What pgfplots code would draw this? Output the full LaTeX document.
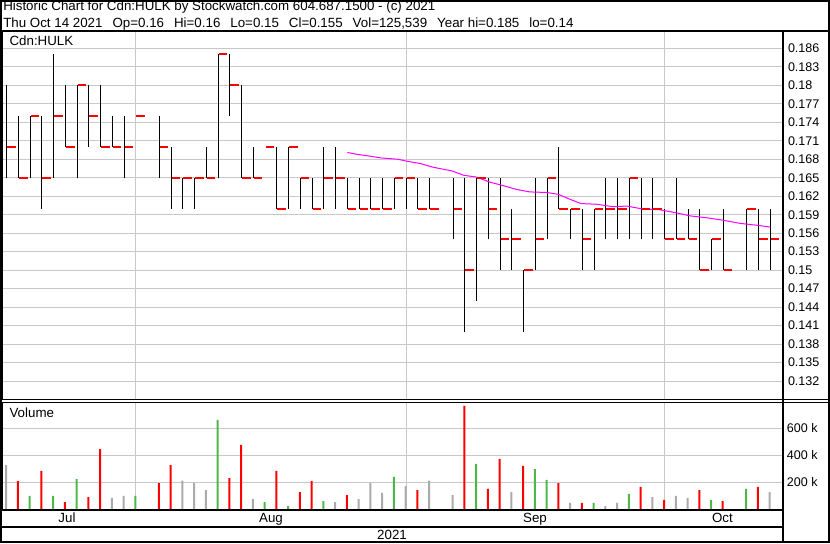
\documentclass[border=0pt]{standalone}
\usepackage{fontspec}
\setmainfont{Liberation Sans}
\usepackage{pgfplots}
\pgfplotsset{compat=1.18}
\usepackage{pgfplotstable}

\definecolor{gridgray}{HTML}{C8C8C8}
\definecolor{volred}{HTML}{FF0000}
\definecolor{volgreen}{HTML}{4DB848}
\definecolor{volgray}{HTML}{AAAAAA}
\definecolor{mapink}{HTML}{FF00FF}

\newcommand{\chartfont}{\fontsize{10}{12}\selectfont}
\newcommand{\tickfont}{\fontsize{9.4}{11}\selectfont}
\newcommand{\gap}{\hspace{7.5pt}}

% red close tick, to the right of the bar
\pgfdeclareplotmark{closetick}{%
  \pgfpathmoveto{\pgfpoint{0.4pt}{0pt}}%
  \pgfpathlineto{\pgfpoint{6.8pt}{0pt}}%
  \pgfusepathqstroke}

% daily bars: index (weekday), high, low, close
\pgfplotstableread{
i  hi    lo    cl
0  0.180 0.165 0.170
1  0.175 0.165 0.165
2  0.175 0.165 0.175
3  0.175 0.160 0.165
4  0.185 0.165 0.175
5  0.180 0.170 0.170
6  0.180 0.165 0.180
7  0.180 0.170 0.175
8  0.180 0.170 0.170
9  0.175 0.170 0.170
10 0.175 0.165 0.170
11 0.175 0.175 0.175
13 0.175 0.165 0.170
14 0.170 0.160 0.165
15 0.165 0.160 0.165
16 0.165 0.160 0.165
17 0.170 0.165 0.165
18 0.185 0.165 0.185
19 0.185 0.175 0.180
20 0.180 0.165 0.165
21 0.170 0.165 0.165
22 0.170 0.170 0.170
23 0.170 0.160 0.160
24 0.170 0.160 0.170
25 0.165 0.160 0.165
26 0.165 0.160 0.160
27 0.170 0.160 0.165
28 0.170 0.160 0.165
29 0.165 0.160 0.160
30 0.165 0.160 0.160
31 0.165 0.160 0.160
32 0.165 0.160 0.160
33 0.165 0.160 0.165
34 0.165 0.160 0.165
35 0.165 0.160 0.160
36 0.165 0.160 0.160
38 0.165 0.155 0.160
39 0.165 0.140 0.150
40 0.165 0.145 0.165
41 0.165 0.155 0.160
42 0.165 0.150 0.155
43 0.160 0.150 0.155
44 0.150 0.140 0.150
45 0.165 0.150 0.155
46 0.165 0.155 0.165
47 0.170 0.160 0.160
48 0.160 0.155 0.160
49 0.160 0.150 0.155
50 0.160 0.150 0.160
51 0.165 0.155 0.160
52 0.165 0.155 0.160
53 0.165 0.155 0.165
54 0.165 0.155 0.160
55 0.165 0.155 0.160
56 0.160 0.155 0.155
57 0.165 0.155 0.155
58 0.160 0.155 0.155
59 0.160 0.150 0.150
60 0.155 0.150 0.155
61 0.160 0.150 0.150
63 0.160 0.150 0.160
64 0.160 0.150 0.155
65 0.160 0.150 0.155
}\prices

% volume, split by colour (down / up / unchanged)
\pgfplotstableread{
i vol
1 208000
3 283000
5 52000
7 89000
8 446000
13 193000
14 327000
19 230000
20 476000
23 283000
25 126000
26 208000
29 104000
35 141000
39 766000
41 149000
42 372000
44 320000
47 193000
49 45000
54 164000
56 67000
59 141000
61 59000
64 164000
}\voldown

\pgfplotstableread{
i vol
2 97000
4 97000
6 223000
11 97000
18 662000
22 52000
24 22000
27 59000
33 238000
40 335000
45 297000
46 216000
50 45000
53 112000
60 67000
63 149000
}\volup

\pgfplotstableread{
i vol
0 327000
9 82000
10 97000
15 211000
16 193000
17 141000
21 74000
28 52000
30 74000
31 193000
32 119000
34 171000
36 211000
38 104000
43 126000
48 45000
51 22000
52 45000
55 89000
57 97000
58 82000
65 126000
}\volflat

\begin{document}
\begin{tikzpicture}[x=0.75pt,y=0.75pt]
\useasboundingbox (0,0) rectangle (830,543);

% price panel
\begin{axis}[
  at={(1.5pt,108pt)}, anchor=south west, scale only axis,
  width=585pt, height=275.25pt,
  xmin=-0.4, xmax=66, ymin=0.1291, ymax=0.18864,
  xtick={11,34,56}, xticklabels={},
  ytick={0.132,0.135,0.138,0.141,0.144,0.147,0.150,0.153,0.156,0.159,0.162,0.165,0.168,0.171,0.174,0.177,0.180,0.183,0.186},
  yticklabels={0.132,0.135,0.138,0.141,0.144,0.147,0.15,0.153,0.156,0.159,0.162,0.165,0.168,0.171,0.174,0.177,0.18,0.183,0.186},
  yticklabel pos=right,
  grid=major, major grid style={gridgray, line width=0.75pt},
  major tick length=0pt,
  yticklabel style={anchor=west, inner sep=0pt, xshift=4.3pt, font=\tickfont},
  axis line style={line width=0.75pt},
]
% high-low bars
\addplot[draw=none, mark=none,
  error bars/.cd, y dir=plus, y explicit, error mark=none,
  error bar style={draw=black, line width=0.75pt, solid}]
  table[x=i, y=lo, y error plus expr=\thisrow{hi}-\thisrow{lo}] {\prices};
% close
\addplot[volred, only marks, mark=closetick, mark options={line width=1.5pt}]
  table[x=i, y=cl] {\prices};
% moving average
\addplot[mapink, line width=0.75pt] coordinates {
  (29.0,0.1691) (29.8,0.1688) (30.9,0.1685) (31.9,0.1682) (33.3,0.1680)
  (34.0,0.1677) (35.2,0.1673) (36.3,0.1667) (37.9,0.1661) (38.9,0.1654)
  (40.0,0.1651) (41.1,0.1643) (42.3,0.1637) (43.4,0.1631) (44.5,0.1627)
  (46.0,0.1626) (46.95,0.1623) (47.95,0.1615) (48.9,0.1608) (50.2,0.1607)
  (51.6,0.1603) (52.8,0.1604) (54.2,0.1599) (55.6,0.1598) (57.0,0.1593)
  (58.2,0.1588) (59.6,0.1585) (61.0,0.1581) (62.4,0.1576) (63.8,0.1573)
  (65.0,0.1570)
};
\end{axis}

% volume panel
\begin{axis}[
  at={(1.5pt,25.5pt)}, anchor=south west, scale only axis,
  width=585pt, height=80.25pt,
  xmin=-0.4, xmax=66, ymin=0, ymax=795500,
  xtick={5.13,22.5,44.97,60.93}, xticklabels={Jul,Aug,Sep,Oct},
  minor xtick={11,34,56}, xminorgrids,
  minor grid style={gridgray, line width=0.75pt},
  ytick={200000,400000,600000}, yticklabels={200 k,400 k,600 k},
  scaled y ticks=false,
  ymajorgrids, major grid style={gridgray, line width=0.75pt},
  yticklabel pos=right,
  yticklabel style={anchor=west, inner sep=0pt, xshift=3.5pt, font=\tickfont},
  xticklabel style={anchor=base, inner sep=0pt, yshift=-10.3pt, font=\chartfont},
  major tick length=0pt, minor tick length=0pt,
  axis line style={line width=0.75pt},
  ybar, bar width=1.5pt, bar shift=-0.4pt,
]
\addplot[fill=volred, draw=none] table[x=i, y=vol] {\voldown};
\addplot[fill=volgreen, draw=none] table[x=i, y=vol] {\volup};
\addplot[fill=volgray, draw=none] table[x=i, y=vol] {\volflat};
\end{axis}

% frame
\draw[line width=1.5pt] (0,512) -- (830,512);
\draw[line width=1.5pt] (782.5,512) -- (782.5,0);
\draw[line width=0.75pt] (782,144) -- (830,144);
\draw[line width=0.75pt] (782,141) -- (830,141);
\draw[line width=1.5pt] (0,33) -- (782.5,33);
\draw[line width=1.5pt] (0,16) -- (782.5,16);
\draw[line width=1.5pt] (0.75,0.75) rectangle (829.25,542.25);

% texts
\begin{scope}[every node/.style={inner sep=0pt, font=\chartfont}]
\node[anchor=base west] at (3,532.3) {Historic Chart for Cdn:HULK by Stockwatch.com 604.687.1500 - (c) 2021};
\node[anchor=base west] at (3,515.7) {Thu Oct 14 2021\gap Op=0.16\gap Hi=0.16\gap Lo=0.15\gap Cl=0.155\gap Vol=125,539\gap Year hi=0.185\gap lo=0.14};
\node[anchor=base west] at (9.3,497.7) {Cdn:HULK};
\node[anchor=base west] at (9.3,125.3) {Volume};
\node[anchor=base] at (392,3.7) {2021};
\end{scope}
\end{tikzpicture}
\end{document}
